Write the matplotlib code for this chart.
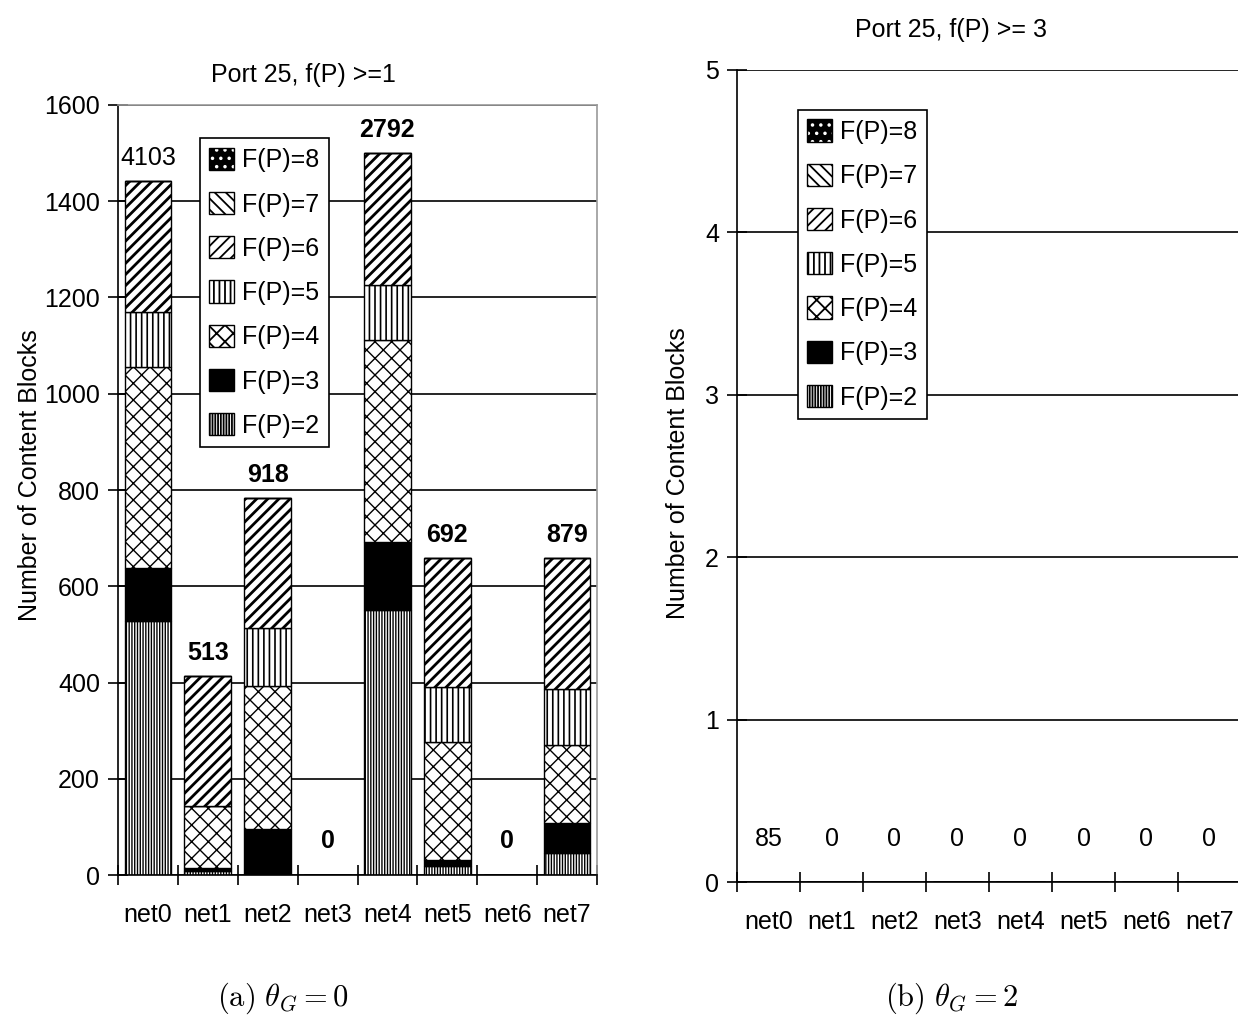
import matplotlib
matplotlib.use('Agg')
import matplotlib.pyplot as plt
import numpy as np
from matplotlib.patches import Patch
from matplotlib.legend_handler import HandlerTuple

plt.rcParams['font.family'] = ['Liberation Sans', 'DejaVu Sans']
plt.rcParams['mathtext.fontset'] = 'cm'
plt.rcParams['hatch.linewidth'] = 1.3
plt.rcParams['hatch.color'] = 'black'

categories = ['net0', 'net1', 'net2', 'net3', 'net4', 'net5', 'net6', 'net7']
levels = ['F(P)=2', 'F(P)=3', 'F(P)=4', 'F(P)=5', 'F(P)=6', 'F(P)=7', 'F(P)=8']

# (a) theta_G = 0, Port 25, f(P) >= 1
a_f2 = [528, 8, 0, 0, 551, 19, 0, 46]
a_f3 = [110, 6, 96, 0, 141, 12, 0, 62]
a_f4 = [417, 129, 297, 0, 420, 245, 0, 162]
a_f5 = [115, 0, 120, 0, 114, 115, 0, 116]
a_f6 = [272, 270, 270, 0, 274, 268, 0, 273]
a_f7 = [0, 0, 0, 0, 0, 0, 0, 0]
a_f8 = [0, 0, 0, 0, 0, 0, 0, 0]
a_labels = ['4103', '513', '918', '0', '2792', '692', '0', '879']

# (b) theta_G = 2, Port 25, f(P) >= 3
b_f2 = [0, 0, 0, 0, 0, 0, 0, 0]
b_f3 = [0, 0, 0, 0, 0, 0, 0, 0]
b_f4 = [0, 0, 0, 0, 0, 0, 0, 0]
b_f5 = [0, 0, 0, 0, 0, 0, 0, 0]
b_f6 = [0, 0, 0, 0, 0, 0, 0, 0]
b_f7 = [0, 0, 0, 0, 0, 0, 0, 0]
b_f8 = [0, 0, 0, 0, 0, 0, 0, 0]
b_labels = ['85', '0', '0', '0', '0', '0', '0', '0']

a_yticks = [0, 200, 400, 600, 800, 1000, 1200, 1400, 1600]
b_yticks = [0, 1, 2, 3, 4, 5]

styles = {
    'F(P)=2': dict(facecolor='white', hatch='||||||', hlw=1.0),
    'F(P)=3': dict(facecolor='black', hatch=None, hlw=1.0),
    'F(P)=4': dict(facecolor='white', hatch='xx', hlw=1.0),
    'F(P)=5': dict(facecolor='white', hatch='|||', hlw=1.2),
    'F(P)=6': dict(facecolor='white', hatch='///', hlw=2.0),
    'F(P)=7': dict(facecolor='white', hatch='\\\\\\', hlw=2.0),
    'F(P)=8': dict(facecolor='black', hatch=None, hlw=1.0),
}

FS = 18
fig = plt.figure(figsize=(12.38, 10.21), dpi=100)


def set_hlw(p, w):
    if hasattr(p, 'set_hatch_linewidth'):
        try:
            p.set_hatch_linewidth(w)
        except Exception:
            pass


def legend_handles():
    hs = []
    for lv in levels[::-1]:
        if lv == 'F(P)=8':
            h = (Patch(facecolor='black', edgecolor='white', hatch='..', lw=0),
                 Patch(fill=False, edgecolor='black', lw=1))
        else:
            st = styles[lv]
            h = Patch(facecolor=st['facecolor'], edgecolor='black', hatch=st['hatch'], lw=1)
            set_hlw(h, st['hlw'])
        hs.append(h)
    return hs


def draw(ax, series, labels, yticks, bold, lbl_offset_pos, lbl_offset_zero):
    x = np.arange(len(categories))
    bottom = np.zeros(len(categories))
    for lv, vals in zip(levels, series):
        st = styles[lv]
        v = np.array(vals, dtype=float)
        bars = ax.bar(x, v, 0.78, bottom=bottom, facecolor=st['facecolor'],
                      edgecolor='black', hatch=st['hatch'], linewidth=1, zorder=2)
        for b in bars:
            set_hlw(b, st['hlw'])
        bottom = bottom + v
    for i, t in enumerate(labels):
        off = lbl_offset_pos if bottom[i] > 0 else lbl_offset_zero
        ax.annotate(t, (x[i], bottom[i]), xytext=(0, off), textcoords='offset points',
                    ha='center', va='bottom', fontsize=FS,
                    fontweight=('bold' if bold[i] else 'normal'), zorder=3)
    ax.set_xlim(-0.5, len(categories) - 0.5)
    ax.set_ylim(yticks[0], yticks[-1])
    ax.set_yticks(yticks)
    ax.set_yticklabels([str(t) for t in yticks], fontsize=FS)
    ax.set_xticks(x)
    ax.set_xticklabels(categories, fontsize=FS)
    ax.set_xticks(np.arange(len(categories) + 1) - 0.5, minor=True)
    ax.tick_params(axis='x', which='major', length=0, pad=20)
    ax.tick_params(axis='x', which='minor', direction='inout', length=14, width=1.2)
    ax.tick_params(axis='y', which='major', direction='inout', length=14, width=1.2, pad=6)
    ax.grid(axis='y', color='black', linewidth=1.2)
    ax.set_axisbelow(True)
    for s in ('left', 'bottom'):
        ax.spines[s].set_linewidth(1.2)
        ax.spines[s].set_color('black')


legend_kw = dict(loc='upper left', borderaxespad=0, fontsize=FS,
                 handlelength=1.0, handleheight=1.0, handletextpad=0.3,
                 labelspacing=0.78, borderpad=0.38, fancybox=False,
                 framealpha=1, edgecolor='black',
                 handler_map={tuple: HandlerTuple(ndivide=1, pad=0)})

# left panel
ax1 = fig.add_axes([118/1238, 146/1021, (597-118)/1238, (875-105)/1021])
draw(ax1, [a_f2, a_f3, a_f4, a_f5, a_f6, a_f7, a_f8], a_labels, a_yticks,
     [False, True, True, True, True, True, True, True], 8, 16)
for s in ('top', 'right'):
    ax1.spines[s].set_color('#9a9a9a')
    ax1.spines[s].set_linewidth(1.2)
leg1 = ax1.legend(legend_handles(), levels[::-1], bbox_to_anchor=(0.171, 0.957), **legend_kw)
leg1.get_frame().set_linewidth(1.2)
leg1.set_zorder(5)

# right panel
ax2 = fig.add_axes([737/1238, 139/1021, (1241-737)/1238, (882-70)/1021])
draw(ax2, [b_f2, b_f3, b_f4, b_f5, b_f6, b_f7, b_f8], b_labels, b_yticks,
     [False] * 8, 22, 22)
ax2.spines['top'].set_visible(False)
ax2.spines['right'].set_visible(False)
leg2 = ax2.legend(legend_handles(), levels[::-1], bbox_to_anchor=(0.121, 0.951), **legend_kw)
leg2.get_frame().set_linewidth(1.2)
leg2.set_zorder(5)

fig.text(303/1238, 1 - 75/1021, 'Port 25, f(P) >=1', ha='center', va='center', fontsize=FS)
fig.text(951/1238, 1 - 30/1021, 'Port 25, f(P) >= 3', ha='center', va='center', fontsize=FS)
fig.text(30/1238, 1 - 475/1021, 'Number of Content Blocks', rotation=90,
         ha='center', va='center', fontsize=FS)
fig.text(678/1238, 1 - 473/1021, 'Number of Content Blocks', rotation=90,
         ha='center', va='center', fontsize=FS)
fig.text(283/1238, 1 - 998/1021, r'$\mathrm{(a)}\ \theta_G = 0$', ha='center',
         va='center', fontsize=22)
fig.text(951/1238, 1 - 998/1021, r'$\mathrm{(b)}\ \theta_G = 2$', ha='center',
         va='center', fontsize=22)

fig.savefig('out.png', dpi=100, facecolor='white')
